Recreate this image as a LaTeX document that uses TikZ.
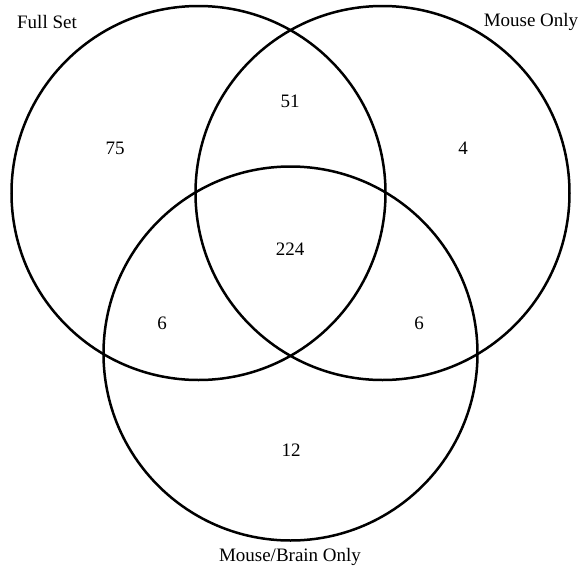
\documentclass[tikz,border=0pt]{standalone}
\usepackage{fontspec}
\setmainfont{Liberation Serif}
\begin{document}
\begin{tikzpicture}[x=1pt,y=-1pt,
  ring/.style={draw=black,line width=2.5pt},
  lbl/.style={font=\fontsize{19}{22}\selectfont,inner sep=0pt,anchor=center}]
\useasboundingbox (0,0) rectangle (582,571);
\draw[ring] (198.5,193) circle[radius=187];
\draw[ring] (382.5,193) circle[radius=187];
\draw[ring] (290.5,353.5) circle[radius=187];
\node[lbl] (fs) at (47,22) {Full Set};
\node[lbl] (mo) at (531,22) {Mouse Only};
\node[lbl] (mb) at (290,557) {Mouse/Brain Only};
\node[lbl] (a) at (115,148) {75};
\node[lbl] (b) at (290,101) {51};
\node[lbl] (c) at (463,148) {4};
\node[lbl] (d) at (290,249) {224};
\node[lbl] (e) at (162,323) {6};
\node[lbl] (f) at (419,323) {6};
\node[lbl] (g) at (291,450) {12};
\end{tikzpicture}
\end{document}
